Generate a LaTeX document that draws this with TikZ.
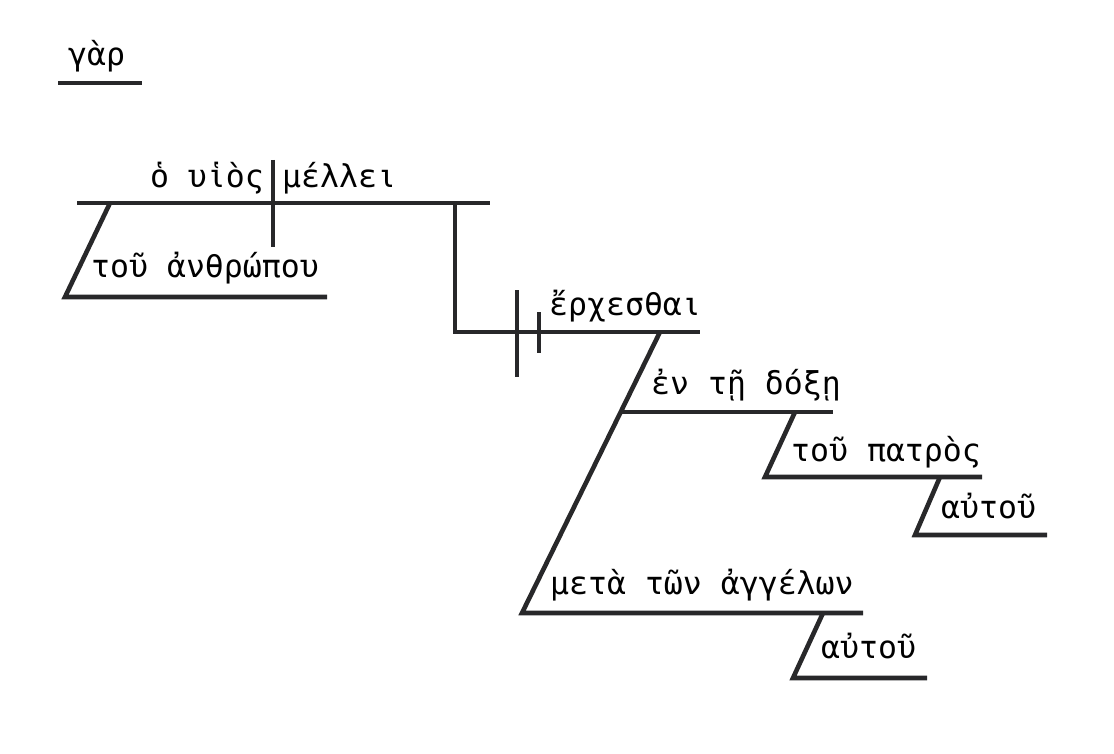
\documentclass[tikz,border=0pt]{standalone}
\usepackage{fontspec}
\newfontfamily\grk{DejaVu Sans Mono}
\begin{document}
\begin{tikzpicture}[x=1pt,y=-1pt,
  ln/.style={line width=4.6pt,draw={rgb,255:red,40;green,40;blue,42},line join=miter,line cap=butt},
  wd/.style={anchor=base west,inner sep=0pt,font=\grk\fontsize{31.5}{36}\selectfont},
  wde/.style={anchor=base east,inner sep=0pt,font=\grk\fontsize{31.5}{36}\selectfont}]
\useasboundingbox (0,0) rectangle (1114,754);
% conjunction
\node[wd] (gar) at (68,66) {γὰρ};
\coordinate (g1) at (58,83); \coordinate (g2) at (142,83);
\draw[ln] (g1) -- (g2);
% main clause
\coordinate (m1) at (77,203); \coordinate (m2) at (490,203);
\draw[ln] (m1) -- (m2);
\coordinate (d1) at (273,160); \coordinate (d2) at (273,247);
\draw[ln] (d1) -- (d2);
\node[wde] (subj) at (264,188) {ὁ υἱὸς};
\node[wd] (verb) at (282,188) {μέλλει};
% modifier of subject
\coordinate (s1) at (110,203); \coordinate (s2) at (65,297); \coordinate (s3) at (327,297);
\draw[ln] (s1) -- (s2) -- (s3);
\node[wd] (anth) at (91,277) {τοῦ ἀνθρώπου};
% infinitive object
\coordinate (v1) at (455,203); \coordinate (v2) at (455,332); \coordinate (v3) at (700,332);
\draw[ln] (v1) -- (v2) -- (v3);
\coordinate (t1) at (517,290); \coordinate (t2) at (517,377);
\coordinate (u1) at (539,312); \coordinate (u2) at (539,353);
\draw[ln] (t1) -- (t2);
\draw[ln] (u1) -- (u2);
\node[wd] (erch) at (549,315) {ἔρχεσθαι};
% prepositional phrases
\coordinate (p1) at (660,332); \coordinate (p2) at (522,613); \coordinate (p3) at (863,613);
\draw[ln] (p1) -- (p2) -- (p3);
\coordinate (e1) at (621,412); \coordinate (e2) at (833,412);
\draw[ln] (e1) -- (e2);
\node[wd] (en) at (651,394) {ἐν τῇ δόξῃ};
\coordinate (a1) at (795,412); \coordinate (a2) at (765,477); \coordinate (a3) at (982,477);
\draw[ln] (a1) -- (a2) -- (a3);
\node[wd] (patr) at (791,461) {τοῦ πατρὸς};
\coordinate (b1) at (940,477); \coordinate (b2) at (915,535); \coordinate (b3) at (1047,535);
\draw[ln] (b1) -- (b2) -- (b3);
\node[wd] (aut1) at (941,518) {αὐτοῦ};
\node[wd] (meta) at (550,594) {μετὰ τῶν ἀγγέλων};
\coordinate (c1) at (823,613); \coordinate (c2) at (793,678); \coordinate (c3) at (927,678);
\draw[ln] (c1) -- (c2) -- (c3);
\node[wd] (aut2) at (821,658) {αὐτοῦ};
\end{tikzpicture}
\end{document}
